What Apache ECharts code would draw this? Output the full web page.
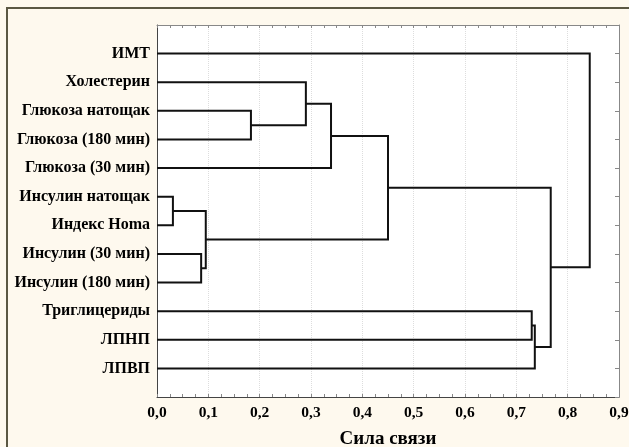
<!DOCTYPE html>
<html>
<head>
<meta charset="utf-8">
<script src="https://cdn.jsdelivr.net/npm/echarts@6/dist/echarts.min.js"></script>
<style>
html,body{margin:0;padding:0;background:#fef9ee;overflow:hidden;}
#frame{position:absolute;left:6px;top:7px;width:700px;height:500px;border-left:2px solid #5b5843;border-top:2px solid #5b5843;}
#main{position:absolute;left:0;top:0;width:629px;height:447px;}
</style>
</head>
<body>
<div id="frame"></div>
<div id="main"></div>
<script>
// leaves, top to bottom
var leaves = ['ИМТ', 'Холестерин', 'Глюкоза натощак', 'Глюкоза (180 мин)', 'Глюкоза (30 мин)',
  'Инсулин натощак', 'Индекс Homa', 'Инсулин (30 мин)', 'Инсулин (180 мин)',
  'Триглицериды', 'ЛПНП', 'ЛПВП'];
// merges: node ids 0..11 are leaves, 12+ are merged clusters in order
var mergeLeft   = [2, 1, 13, 5, 7, 15, 14, 9, 19, 18, 0];
var mergeRight  = [3, 12, 4, 6, 8, 16, 17, 10, 11, 20, 21];
var mergeHeight = [0.183, 0.290, 0.339, 0.031, 0.086, 0.095, 0.450, 0.730, 0.736, 0.767, 0.843];

var nodeX = leaves.map(function(){ return 0; });
var nodeY = leaves.map(function(_, i){ return i + 1; });
var links = [];
for (var k = 0; k < mergeHeight.length; k++) {
  var l = mergeLeft[k], r = mergeRight[k];
  nodeX.push(mergeHeight[k]);
  nodeY.push((nodeY[l] + nodeY[r]) / 2);
  links.push([nodeX[l], nodeY[l], nodeX[r], nodeY[r], mergeHeight[k]]);
}

var font = {fontFamily: 'Liberation Serif', fontWeight: 'bold', color: '#000'};
var myChart = echarts.init(document.getElementById('main'));
var option = {
  animation: false,
  grid: {left: 157, top: 25, right: 10, bottom: 50, outerBoundsMode: 'none',
    show: true, backgroundColor: '#fff', borderWidth: 0},
  xAxis: [{
    type: 'value', min: 0, max: 0.9, interval: 0.1,
    name: 'Сила связи', nameLocation: 'middle', nameGap: 33,
    nameTextStyle: Object.assign({fontSize: 19}, font),
    axisLine: {show: true, onZero: false, lineStyle: {color: '#444', width: 1}},
    axisTick: {show: true, inside: true, length: 3, lineStyle: {color: '#888'}},
    minorTick: {show: true, splitNumber: 4, length: 3, lineStyle: {color: '#888'}},
    axisLabel: Object.assign({fontSize: 15.5, margin: 8, formatter: function(v){ return v.toFixed(1).replace('.', ','); }}, font),
    splitLine: {show: true, lineStyle: {color: '#ddd', type: 'dotted', width: 1}}
  }, {
    type: 'value', min: 0, max: 0.9, interval: 0.1, position: 'top',
    axisLine: {show: true, onZero: false, lineStyle: {color: '#888', width: 1}},
    axisTick: {show: true, inside: true, length: 3, lineStyle: {color: '#888'}},
    minorTick: {show: true, splitNumber: 4, length: 3, lineStyle: {color: '#888'}},
    axisLabel: {show: false}, splitLine: {show: false}
  }],
  yAxis: [{
    type: 'value', inverse: true, min: 0, max: 13, interval: 1,
    axisLine: {show: true, onZero: false, lineStyle: {color: '#444', width: 1}},
    axisTick: {show: false},
    axisLabel: Object.assign({fontSize: 16, margin: 7, formatter: function(v){ return leaves[v - 1] || ''; }}, font),
    splitLine: {show: false}
  }, {
    type: 'value', inverse: true, min: 0, max: 13, interval: 1, position: 'right',
    axisLine: {show: true, onZero: false, lineStyle: {color: '#888', width: 1}},
    axisTick: {show: true, inside: true, length: 4, lineStyle: {color: '#888'}},
    axisLabel: {show: false}, splitLine: {show: false}
  }],
  series: [{
    type: 'custom',
    xAxisIndex: 0, yAxisIndex: 0,
    encode: {x: [0, 2, 4], y: [1, 3]},
    data: links,
    renderItem: function(params, api){
      var a = api.coord([api.value(0), api.value(1)]);
      var b = api.coord([api.value(4), api.value(1)]);
      var c = api.coord([api.value(4), api.value(3)]);
      var d = api.coord([api.value(2), api.value(3)]);
      return {type: 'polyline', shape: {points: [a, b, c, d]},
        style: {stroke: '#111', lineWidth: 2, fill: null}};
    }
  }]
};
myChart.setOption(option);
</script>
</body>
</html>
